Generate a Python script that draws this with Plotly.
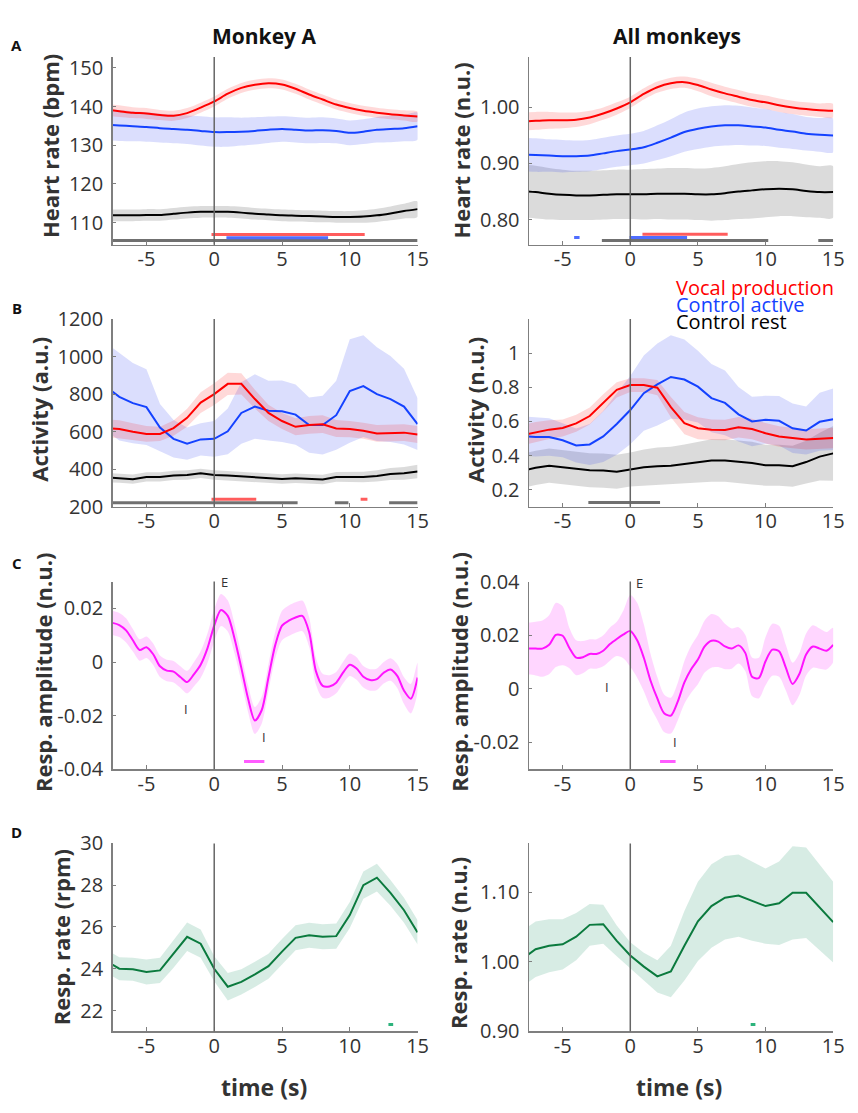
import plotly.graph_objects as go

W, H = 858, 1113

# ---------------- data ----------------
t_int = [-8, -7, -6, -5, -4, -3, -2, -1, 0, 1, 2, 3, 4, 5, 6, 7, 8, 9, 10, 11, 12, 13, 14, 15]
t_half = [-8, -7.5, -7, -6.5, -6, -5.5, -5, -4.5, -4, -3.5, -3, -2.5, -2, -1.5, -1, -0.5, 0, 0.5, 1, 1.5,
          2, 2.5, 3, 3.5, 4, 4.5, 5, 5.5, 6, 6.5, 7, 7.5, 8, 8.5, 9, 9.5, 10, 10.5, 11, 11.5, 12, 12.5,
          13, 13.5, 14, 14.5, 15]

# Panel A - heart rate, Monkey A (bpm)
hrA_voc = [139.2, 138.8, 138.4, 138.2, 137.8, 137.6, 138.3, 139.7, 141.3, 143.3, 144.8, 145.6, 146.0, 145.7, 144.6, 143.1, 141.8, 140.5, 139.6, 138.9, 138.4, 138.0, 137.7, 137.4]
hrA_voc_sem = [1.5, 1.5, 1.4, 1.4, 1.3, 1.3, 1.3, 1.3, 1.3, 1.3, 1.3, 1.3, 1.3, 1.3, 1.3, 1.3, 1.3, 1.3, 1.3, 1.3, 1.3, 1.3, 1.3, 1.3]
hrA_act = [135.3, 135.1, 134.9, 134.7, 134.4, 134.2, 134.0, 133.7, 133.4, 133.4, 133.5, 133.7, 134.0, 134.2, 134.0, 133.8, 133.9, 133.7, 133.2, 133.5, 134.0, 134.2, 134.4, 134.9]
hrA_act_sem = [4.0, 4.0, 3.9, 3.8, 3.7, 3.7, 3.7, 3.8, 3.8, 3.8, 3.6, 3.5, 3.4, 3.3, 3.3, 3.3, 3.3, 3.2, 3.2, 3.2, 3.3, 3.4, 3.4, 3.5]
hrA_rest = [111.9, 111.9, 111.9, 112.0, 112.0, 112.3, 112.6, 112.8, 112.8, 112.8, 112.6, 112.3, 112.1, 111.9, 111.8, 111.7, 111.6, 111.5, 111.5, 111.6, 111.9, 112.4, 113.0, 113.5]
hrA_rest_sem = [1.5, 1.5, 1.5, 1.5, 1.5, 1.5, 1.5, 1.5, 1.5, 1.5, 1.5, 1.5, 1.5, 1.5, 1.5, 1.5, 1.5, 1.5, 1.5, 1.6, 1.7, 1.8, 1.9, 2.0]

# Panel A - heart rate, all monkeys (n.u.)
hrAll_voc = [0.975, 0.976, 0.977, 0.977, 0.978, 0.982, 0.989, 0.998, 1.009, 1.024, 1.036, 1.043, 1.045, 1.040, 1.032, 1.025, 1.019, 1.013, 1.009, 1.004, 1.000, 0.997, 0.995, 0.994]
hrAll_voc_sem = [0.016, 0.016, 0.015, 0.014, 0.013, 0.012, 0.011, 0.011, 0.010, 0.010, 0.010, 0.010, 0.010, 0.011, 0.012, 0.012, 0.012, 0.012, 0.012, 0.012, 0.012, 0.012, 0.012, 0.012]
hrAll_act = [0.916, 0.915, 0.914, 0.913, 0.913, 0.914, 0.918, 0.922, 0.925, 0.929, 0.937, 0.946, 0.956, 0.962, 0.966, 0.968, 0.968, 0.966, 0.964, 0.960, 0.957, 0.953, 0.951, 0.950]
hrAll_act_sem = [0.030, 0.030, 0.029, 0.029, 0.028, 0.028, 0.028, 0.028, 0.028, 0.029, 0.031, 0.033, 0.035, 0.036, 0.036, 0.036, 0.035, 0.034, 0.033, 0.032, 0.031, 0.030, 0.030, 0.030]
hrAll_rest = [0.851, 0.849, 0.846, 0.844, 0.843, 0.843, 0.844, 0.845, 0.845, 0.845, 0.846, 0.846, 0.846, 0.845, 0.845, 0.847, 0.850, 0.852, 0.854, 0.855, 0.854, 0.851, 0.849, 0.849]
hrAll_rest_sem = [0.047, 0.047, 0.046, 0.045, 0.044, 0.044, 0.044, 0.044, 0.044, 0.045, 0.045, 0.046, 0.046, 0.046, 0.047, 0.048, 0.049, 0.050, 0.050, 0.049, 0.048, 0.047, 0.046, 0.046]

# Panel B - activity, Monkey A (a.u.)
actA_voc = [620, 614, 600, 588, 588, 619, 674, 755, 800, 855, 855, 774, 700, 657, 626, 636, 640, 617, 614, 605, 591, 593, 595, 585]
actA_voc_sem = [47, 47, 45, 42, 38, 40, 48, 55, 58, 59, 57, 50, 43, 43, 45, 47, 47, 45, 43, 43, 44, 45, 45, 45]
actA_act = [840, 786, 752, 731, 622, 562, 536, 559, 562, 602, 700, 734, 712, 709, 691, 635, 635, 688, 817, 843, 800, 774, 734, 640]
actA_act_sem = [233, 233, 214, 202, 126, 100, 86, 86, 95, 122, 164, 172, 159, 164, 160, 147, 157, 184, 276, 271, 250, 229, 202, 138]
actA_rest = [356, 353, 347, 359, 359, 367, 369, 378, 369, 366, 362, 359, 352, 348, 352, 348, 345, 359, 359, 359, 364, 374, 378, 388]
actA_rest_sem = [25, 25, 25, 25, 25, 25, 25, 25, 25, 25, 25, 25, 25, 25, 25, 25, 25, 26, 27, 28, 30, 32, 34, 36]

# Panel B - activity, all monkeys (n.u.)
actAll_voc = [0.519, 0.537, 0.552, 0.562, 0.589, 0.632, 0.709, 0.785, 0.813, 0.813, 0.798, 0.684, 0.590, 0.560, 0.552, 0.550, 0.566, 0.556, 0.531, 0.512, 0.503, 0.495, 0.499, 0.503]
actAll_voc_sem = [0.06, 0.06, 0.055, 0.05, 0.05, 0.05, 0.05, 0.045, 0.04, 0.04, 0.045, 0.06, 0.065, 0.065, 0.06, 0.06, 0.06, 0.06, 0.06, 0.06, 0.06, 0.06, 0.06, 0.06]
actAll_act = [0.515, 0.509, 0.509, 0.490, 0.459, 0.465, 0.512, 0.585, 0.667, 0.766, 0.817, 0.861, 0.846, 0.804, 0.737, 0.709, 0.642, 0.600, 0.610, 0.604, 0.560, 0.547, 0.598, 0.613]
actAll_act_sem = [0.115, 0.115, 0.11, 0.1, 0.1, 0.12, 0.15, 0.18, 0.2, 0.22, 0.24, 0.245, 0.235, 0.21, 0.2, 0.19, 0.16, 0.145, 0.14, 0.145, 0.145, 0.14, 0.17, 0.18]
actAll_rest = [0.310, 0.328, 0.341, 0.331, 0.324, 0.314, 0.312, 0.305, 0.318, 0.331, 0.337, 0.341, 0.350, 0.362, 0.371, 0.371, 0.364, 0.356, 0.343, 0.343, 0.337, 0.362, 0.394, 0.413]
actAll_rest_sem = [0.1, 0.1, 0.1, 0.1, 0.1, 0.1, 0.1, 0.1, 0.1, 0.105, 0.11, 0.11, 0.115, 0.12, 0.125, 0.125, 0.125, 0.125, 0.12, 0.12, 0.12, 0.125, 0.14, 0.16]

# Panel C - respiration amplitude (n.u.)
respA = [0.0150, 0.0146, 0.0138, 0.0118, 0.0081, 0.0045, 0.0055, 0.0029, -0.0016, -0.0032, -0.0036, -0.0056, -0.0075, -0.0046, -0.0010, 0.0051,
         0.0136, 0.0194, 0.0172, 0.0087, -0.0022, -0.0137, -0.0218, -0.0180, -0.0058, 0.0063, 0.0136, 0.0154, 0.0166, 0.0172, 0.0112, -0.0034,
         -0.0089, -0.0091, -0.0077, -0.0040, -0.0010, -0.0024, -0.0055, -0.0067, -0.0064, -0.0040, -0.0028, -0.0052, -0.0107, -0.0137, -0.0058]
respA_sem = [0.0045, 0.0045, 0.0045, 0.0045, 0.0042, 0.004, 0.004, 0.004, 0.004, 0.004, 0.004, 0.004, 0.0042, 0.0045, 0.005, 0.0055,
             0.006, 0.006, 0.0058, 0.0055, 0.005, 0.005, 0.005, 0.005, 0.005, 0.005, 0.0055, 0.0057, 0.0057, 0.0057, 0.0055, 0.005,
             0.0045, 0.0042, 0.004, 0.004, 0.0042, 0.0042, 0.004, 0.004, 0.004, 0.004, 0.0042, 0.0045, 0.005, 0.0055, 0.0055]
respAll = [0.0150, 0.0150, 0.0150, 0.0150, 0.0164, 0.0201, 0.0198, 0.0152, 0.0116, 0.0118, 0.0130, 0.0130, 0.0142, 0.0167, 0.0186, 0.0203,
           0.0216, 0.0182, 0.0116, 0.0030, -0.0036, -0.0091, -0.0100, -0.0049, 0.0024, 0.0073, 0.0109, 0.0158, 0.0179, 0.0176, 0.0158, 0.0150,
           0.0162, 0.0134, 0.0045, 0.0040, 0.0103, 0.0146, 0.0140, 0.0079, 0.0018, 0.0055, 0.0128, 0.0158, 0.0150, 0.0142, 0.0164]
respAll_sem = [0.0097, 0.0097, 0.0100, 0.0105, 0.0110, 0.0120, 0.0110, 0.0075, 0.0065, 0.0060, 0.0055, 0.0055, 0.0058, 0.0062, 0.0064, 0.0090,
               0.0134, 0.0140, 0.0125, 0.0100, 0.0080, 0.0070, 0.0067, 0.0070, 0.0080, 0.0088, 0.0092, 0.0097, 0.0100, 0.0095, 0.0085, 0.0075,
               0.0068, 0.0068, 0.0072, 0.0076, 0.0090, 0.0097, 0.0095, 0.0085, 0.0079, 0.0078, 0.0078, 0.0079, 0.0075, 0.0070, 0.0064]

# Panel D - respiration rate
rrA = [24.38, 24.0, 23.97, 23.84, 23.92, 24.7, 25.53, 25.2, 24.0, 23.14, 23.37, 23.73, 24.12, 24.82, 25.48, 25.6, 25.53, 25.56, 26.57, 28.0, 28.36, 27.63, 26.8, 25.74]
rrA_sem = [0.55, 0.55, 0.55, 0.6, 0.6, 0.65, 0.68, 0.68, 0.6, 0.66, 0.6, 0.6, 0.6, 0.6, 0.6, 0.6, 0.6, 0.6, 0.62, 0.65, 0.66, 0.62, 0.6, 0.58]
rrAll = [1.004, 1.018, 1.023, 1.025, 1.036, 1.053, 1.054, 1.030, 1.009, 0.993, 0.979, 0.986, 1.023, 1.058, 1.080, 1.092, 1.095, 1.087, 1.080, 1.084, 1.099, 1.099, 1.078, 1.057]
rrAll_sem = [0.04, 0.04, 0.038, 0.036, 0.034, 0.03, 0.028, 0.022, 0.019, 0.02, 0.023, 0.037, 0.05, 0.057, 0.06, 0.06, 0.059, 0.057, 0.054, 0.06, 0.067, 0.065, 0.062, 0.058]

# significance bars (start, end) in seconds
sigA_L_voc = [[-0.2, 11.1]]
sigA_L_act = [[0.9, 8.4]]
sigA_L_rest = [[-7.5, 15]]
sigA_R_voc = [[0.9, 7.2]]
sigA_R_act = [[-4.15, -3.75], [-0.05, 4.2]]
sigA_R_rest = [[-2.1, 10.2], [13.9, 15]]
sigB_L_voc = [[-0.2, 3.1], [10.8, 11.3]]
sigB_L_rest = [[-7.5, 6.15], [8.9, 9.9], [12.9, 15]]
sigB_R_rest = [[-3.1, 2.2]]
sigC_L = [[2.2, 3.7]]
sigC_R = [[2.2, 3.35]]
sigD_L = [[12.85, 13.2]]
sigD_R = [[8.9, 9.25]]

# event labels (E = expiration, I = inspiration) : (time, value, text)
eventsC_L = [(0.79, 0.0297, "E"), (-2.07, -0.0174, "I"), (3.65, -0.0279, "I")]
eventsC_R = [(0.68, 0.0393, "E"), (-1.7, 0.0006, "I"), (3.32, -0.0197, "I")]

x_ticks = [-5, 0, 5, 10, 15]
x_ticktext = ["-5", "0", "5", "10", "15"]
y_ticks = {
    1: ([110, 120, 130, 140, 150], ["110", "120", "130", "140", "150"]),
    2: ([0.8, 0.9, 1.0], ["0.80", "0.90", "1.00"]),
    3: ([200, 400, 600, 800, 1000, 1200], ["200", "400", "600", "800", "1000", "1200"]),
    4: ([0.2, 0.4, 0.6, 0.8, 1.0], ["0.2", "0.4", "0.6", "0.8", "1"]),
    5: ([-0.04, -0.02, 0, 0.02], ["-0.04", "-0.02", "0", "0.02"]),
    6: ([-0.02, 0, 0.02, 0.04], ["-0.02", "0", "0.02", "0.04"]),
    7: ([22, 24, 26, 28, 30], ["22", "24", "26", "28", "30"]),
    8: ([0.9, 1.0, 1.1], ["0.90", "1.00", "1.10"]),
}
y_ranges = {1: [104.3, 152.8], 2: [0.755, 1.09], 3: [200, 1200], 4: [0.1, 1.2],
            5: [-0.04, 0.03], 6: [-0.03, 0.04], 7: [21, 30], 8: [0.9, 1.17]}
y_titles = {1: "Heart rate (bpm)", 2: "Heart rate (n.u.)", 3: "Activity (a.u.)", 4: "Activity (n.u.)",
            5: "Resp. amplitude (n.u.)", 6: "Resp. amplitude (n.u.)", 7: "Resp. rate (rpm)", 8: "Resp. rate (n.u.)"}

# ---------------- styling ----------------
RED, BLUE, BLACK, MAG, GREEN = "#ff0000", "#1442ff", "#000000", "#ff14ff", "#0b7a3e"
RED_F, BLUE_F, GRAY_F = "rgba(255,0,0,0.15)", "rgba(30,50,245,0.16)", "rgba(0,0,0,0.14)"
MAG_F, GREEN_F = "rgba(255,0,255,0.16)", "rgba(20,140,95,0.17)"
SIG_RED, SIG_BLUE, SIG_GRAY, SIG_MAG, SIG_GREEN = "#ff5c5c", "#4f6dff", "#707070", "#ff5cff", "#2db37c"
FONT = "Open Sans"
AX = "#7f7f7f"

fig = go.Figure()


def band(ax, t, m, s, color, shape):
    up = [a + b for a, b in zip(m, s)]
    lo = [a - b for a, b in zip(m, s)]
    fig.add_trace(go.Scatter(x=t + t[::-1], y=up + lo[::-1], mode="lines", fill="toself",
                             fillcolor=color, line=dict(width=0, shape=shape, smoothing=0.8),
                             xaxis="x" + ax, yaxis="y" + ax, hoverinfo="skip", showlegend=False))


def line(ax, t, m, color, shape, width=2):
    fig.add_trace(go.Scatter(x=t, y=m, mode="lines", line=dict(color=color, width=width, shape=shape, smoothing=0.8),
                             xaxis="x" + ax, yaxis="y" + ax, showlegend=False))


def sig(ax, segs, level, color):
    xs, ys = [], []
    for a, b in segs:
        xs += [a, b, None]
        ys += [level, level, None]
    fig.add_trace(go.Scatter(x=xs, y=ys, mode="lines", line=dict(color=color, width=3),
                             xaxis="x" + ax, yaxis="y" + ax, showlegend=False, hoverinfo="skip"))


# Panel A
band("", t_int, hrA_rest, hrA_rest_sem, GRAY_F, "spline")
band("", t_int, hrA_act, hrA_act_sem, BLUE_F, "spline")
band("", t_int, hrA_voc, hrA_voc_sem, RED_F, "spline")
line("", t_int, hrA_rest, BLACK, "spline")
line("", t_int, hrA_act, BLUE, "spline")
line("", t_int, hrA_voc, RED, "spline")
sig("", sigA_L_rest, 105.4, SIG_GRAY)
sig("", sigA_L_act, 106.1, SIG_BLUE)
sig("", sigA_L_voc, 106.95, SIG_RED)

band("2", t_int, hrAll_rest, hrAll_rest_sem, GRAY_F, "spline")
band("2", t_int, hrAll_act, hrAll_act_sem, BLUE_F, "spline")
band("2", t_int, hrAll_voc, hrAll_voc_sem, RED_F, "spline")
line("2", t_int, hrAll_rest, BLACK, "spline")
line("2", t_int, hrAll_act, BLUE, "spline")
line("2", t_int, hrAll_voc, RED, "spline")
sig("2", sigA_R_rest, 0.7627, SIG_GRAY)
sig("2", sigA_R_act, 0.7679, SIG_BLUE)
sig("2", sigA_R_voc, 0.7736, SIG_RED)

# Panel B
band("3", t_int, actA_rest, actA_rest_sem, GRAY_F, "linear")
band("3", t_int, actA_act, actA_act_sem, BLUE_F, "linear")
band("3", t_int, actA_voc, actA_voc_sem, RED_F, "linear")
line("3", t_int, actA_rest, BLACK, "linear")
line("3", t_int, actA_act, BLUE, "linear")
line("3", t_int, actA_voc, RED, "linear")
sig("3", sigB_L_rest, 221, SIG_GRAY)
sig("3", sigB_L_voc, 240, SIG_RED)

band("4", t_int, actAll_rest, actAll_rest_sem, GRAY_F, "linear")
band("4", t_int, actAll_act, actAll_act_sem, BLUE_F, "linear")
band("4", t_int, actAll_voc, actAll_voc_sem, RED_F, "linear")
line("4", t_int, actAll_rest, BLACK, "linear")
line("4", t_int, actAll_act, BLUE, "linear")
line("4", t_int, actAll_voc, RED, "linear")
sig("4", sigB_R_rest, 0.1246, SIG_GRAY)

# Panel C
band("5", t_half, respA, respA_sem, MAG_F, "spline")
line("5", t_half, respA, MAG, "spline")
sig("5", sigC_L, -0.0371, SIG_MAG)
band("6", t_half, respAll, respAll_sem, MAG_F, "spline")
line("6", t_half, respAll, MAG, "spline")
sig("6", sigC_R, -0.0271, SIG_MAG)

# Panel D
band("7", t_int, rrA, rrA_sem, GREEN_F, "linear")
line("7", t_int, rrA, GREEN, "linear")
sig("7", sigD_L, 21.33, SIG_GREEN)
band("8", t_int, rrAll, rrAll_sem, GREEN_F, "linear")
line("8", t_int, rrAll, GREEN, "linear")
sig("8", sigD_R, 0.9098, SIG_GREEN)

# ---------------- layout ----------------
cols = {0: (114, 423), 1: (535.7, 844)}
rows = [(44, 236.5), (312.7, 505), (581.7, 774), (850, 1042.7)]

layout = dict(width=W, height=H, margin=dict(l=0, r=0, t=0, b=0),
              paper_bgcolor="white", plot_bgcolor="white", showlegend=False,
              font=dict(family=FONT, color="#333333"))
shapes = []
annotations = []
for i in range(1, 9):
    r = (i - 1) // 2
    c = (i - 1) % 2
    x0, x1 = cols[c]
    top, bot = rows[r]
    sfx = "" if i == 1 else str(i)
    layout["xaxis" + sfx] = dict(domain=[x0 / W, x1 / W], range=[-7.5, 15], anchor="y" + sfx,
                                 tickvals=x_ticks, ticktext=x_ticktext, showline=True, linecolor=AX, linewidth=1.3,
                                 ticks="inside", ticklen=4, tickcolor=AX, showgrid=False, zeroline=False,
                                 tickfont=dict(size=20, color="#333333"), ticklabelstandoff=-4)
    tv, tt = y_ticks[i]
    layout["yaxis" + sfx] = dict(domain=[1 - bot / H, 1 - top / H], range=y_ranges[i], anchor="x" + sfx,
                                 tickvals=tv, ticktext=tt, showline=True, linecolor=AX, linewidth=1.3,
                                 ticks="inside", ticklen=3, tickcolor=AX, showgrid=False, zeroline=False,
                                 tickfont=dict(size=20, color="#333333"), ticklabelstandoff=4)
    shapes.append(dict(type="line", xref="x" + sfx, yref="y" + sfx + " domain", x0=0, x1=0, y0=0, y1=1,
                       line=dict(color="#666666", width=1.5)))

layout["shapes"] = shapes

# y axis titles (pixel centres)
ytitle_pos = {1: (50, 135), 2: (467, 140), 3: (40, 405), 4: (481, 406),
              5: (43, 674), 6: (465, 674), 7: (62, 946), 8: (464, 952)}
for i, (px, py) in ytitle_pos.items():
    annotations.append(dict(text=y_titles[i], x=px / W, y=1 - py / H, xref="paper", yref="paper",
                            textangle=-90, showarrow=False, xanchor="center", yanchor="middle",
                            font=dict(size=22, family=FONT, color="#333333", weight="bold")))

# column titles
for txt, px, py in [("Monkey A", 267, 22.5), ("All monkeys", 686, 22.5)]:
    annotations.append(dict(text="<b>" + txt + "</b>", x=px / W, y=1 - py / H, xref="paper", yref="paper",
                            showarrow=False, xanchor="center", yanchor="middle",
                            font=dict(size=21, family=FONT, color="#111111")))

# x axis titles
for px in (267, 688):
    annotations.append(dict(text="<b>time (s)</b>", x=px / W, y=1 - 1100 / H, xref="paper", yref="paper",
                            showarrow=False, xanchor="center", yanchor="middle",
                            font=dict(size=23, family=FONT, color="#333333")))

# panel letters
for txt, py in [("A", 32), ("B", 301), ("C", 563), ("D", 838)]:
    annotations.append(dict(text="<b>" + txt + "</b>", x=17 / W, y=1 - py / H, xref="paper", yref="paper",
                            showarrow=False, xanchor="center", yanchor="middle",
                            font=dict(size=15, family=FONT, color="#111111")))

# legend
for txt, col, py in [("Vocal production", RED, 280), ("Control active", BLUE, 297.5), ("Control rest", BLACK, 315)]:
    annotations.append(dict(text=txt, x=683 / W, y=1 - py / H, xref="paper", yref="paper",
                            showarrow=False, xanchor="left", yanchor="middle",
                            font=dict(size=20, family=FONT, color=col)))

# E / I labels
for ax, evs in (("5", eventsC_L), ("6", eventsC_R)):
    for tx, ty, txt in evs:
        annotations.append(dict(text=txt, x=tx, y=ty, xref="x" + ax, yref="y" + ax, showarrow=False,
                                xanchor="center", yanchor="middle",
                                font=dict(size=13, family=FONT, color="#333333")))

layout["annotations"] = annotations
fig.update_layout(**layout)
fig.write_html("out.html", config={"displayModeBar": False, "staticPlot": True},
               post_script="document.body.style.margin='0px';document.body.style.overflow='hidden';")
